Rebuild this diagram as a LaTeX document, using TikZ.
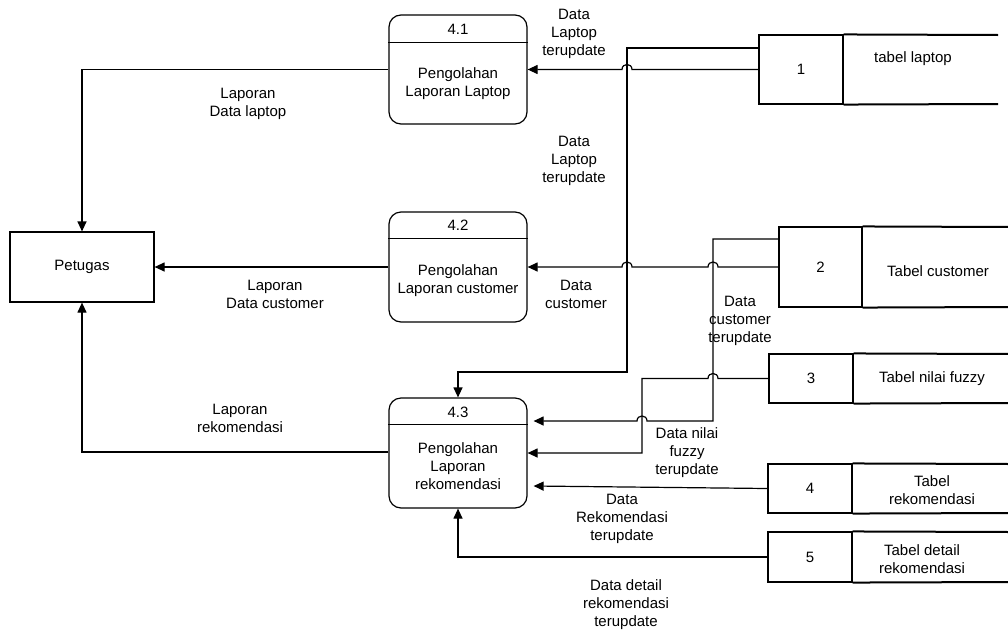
\documentclass[tikz,border=0pt]{standalone}
\usepackage{fontspec}
\setmainfont{Liberation Sans}
\usetikzlibrary{arrows.meta}
\begin{document}
\begin{tikzpicture}[x=1pt,y=-1pt,
  every node/.style={font=\fontsize{15}{18}\selectfont},
  lbl/.style={align=center, inner sep=0pt},
  proc/.style={draw, rounded corners=12pt, minimum width=138pt, line width=1.2pt, inner sep=0pt},
  ext/.style={draw, minimum width=144pt, minimum height=70pt, line width=1.2pt},
  cell/.style={draw, minimum width=84pt, line width=1.1pt, inner sep=0pt},
  flow/.style={line width=1.2pt, -{Triangle[length=10pt,width=9pt]}},
  wire/.style={line width=1.2pt},
  storeline/.style={line width=2pt}
]
\useasboundingbox (0,0) rectangle (1008,632);

% external entity
\node[ext] (pet) at (82,267) {Petugas};

% processes
\node[proc, minimum height=109pt] (p41) at (458,69.5) {};
\draw[wire] ([yshift=-28pt]p41.north west) -- ([yshift=-28pt]p41.north east);
\node at (458,29) {4.1};
\node[lbl] at (458,84) {Pengolahan\\Laporan Laptop};

\node[proc, minimum height=110pt] (p42) at (458,267) {};
\draw[wire] ([yshift=-27pt]p42.north west) -- ([yshift=-27pt]p42.north east);
\node at (458,225) {4.2};
\node[lbl] at (458,281) {Pengolahan\\Laporan customer};

\node[proc, minimum height=110pt] (p43) at (458,453) {};
\draw[wire] ([yshift=-27pt]p43.north west) -- ([yshift=-27pt]p43.north east);
\node at (458,412) {4.3};
\node[lbl] at (458,466) {Pengolahan\\Laporan\\rekomendasi};

% data stores
\node[cell, minimum height=69pt] (s1) at (801,69.5) {1};
\draw[storeline] (s1.north east) -- (998,35);
\draw[storeline] (s1.south east) -- (998,104);
\node at (913,59) {tabel laptop};

\node[cell, minimum width=83pt, minimum height=80pt] (s2) at (820.5,267) {2};
\draw[storeline] (s2.north east) -- (1010,227);
\draw[storeline] (s2.south east) -- (1010,307);
\node at (938,271) {Tabel customer};

\node[cell, minimum height=49pt] (s3) at (811,378.5) {3};
\draw[storeline] (s3.north east) -- (1010,354);
\draw[storeline] (s3.south east) -- (1010,403);
\node at (932,378.5) {Tabel nilai fuzzy};

\node[cell, minimum height=49pt] (s4) at (810,488.5) {4};
\draw[storeline] (s4.north east) -- (1010,464);
\draw[storeline] (s4.south east) -- (1010,513);
\node[lbl] at (932,490) {Tabel\\rekomendasi};

\node[cell, minimum height=50pt] (s5) at (810,557) {5};
\draw[storeline] (s5.north east) -- (1010,532);
\draw[storeline] (s5.south east) -- (1010,582);
\node[lbl] at (922,559) {Tabel detail\\rekomendasi};

% flows
\draw[flow] (s1.west) -- (632,69.5) .. controls (632,62.8) and (622,62.8) .. (622,69.5) -- (p41.east);
\draw[flow] ([yshift=21.5pt]s1.west) -- (627,48) -- (627,372) -- (458,372) -- (p43.north);
\draw[flow] (s2.west) -- (718,267) .. controls (718,260.3) and (708,260.3) .. (708,267)
  -- (632,267) .. controls (632,260.3) and (622,260.3) .. (622,267) -- (p42.east);
\draw[flow] ([yshift=28pt]s2.west) -- (713,239) -- (713,421)
  -- (647,421) .. controls (647,414.3) and (637,414.3) .. (637,421) -- ([xshift=6pt,yshift=32pt]p43.east);
\draw[flow] (s3.west) -- (718,378.5) .. controls (718,371.8) and (708,371.8) .. (708,378.5)
  -- (642,378.5) -- (642,453) -- (p43.east);
\draw[flow] (s4.west) -- ([xshift=6pt,yshift=-33pt]p43.east);
\draw[flow] (s5.west) -- (458,557) -- (p43.south);
\draw[flow] (p41.west) -- (82,69.5) -- (pet.north);
\draw[flow] (p42.west) -- (pet.east);
\draw[flow] ([yshift=1pt]p43.west) -- (82,452) -- (pet.south);

% labels
\node[lbl] at (574,34) {Data\\Laptop\\terupdate};
\node[lbl] at (574,161) {Data\\Laptop\\terupdate};
\node[lbl] at (248,103.5) {Laporan\\Data laptop};
\node[lbl] at (275,294.5) {Laporan\\Data customer};
\node[lbl] at (576,294.5) {Data\\customer};
\node[lbl] at (740,321) {Data\\customer\\terupdate};
\node[lbl] at (240,418) {Laporan\\rekomendasi};
\node[lbl] at (687,453) {Data nilai\\fuzzy\\terupdate};
\node[lbl] at (622,519) {Data\\Rekomendasi\\terupdate};
\node[lbl] at (626,605) {Data detail\\rekomendasi\\terupdate};
\end{tikzpicture}
\end{document}
